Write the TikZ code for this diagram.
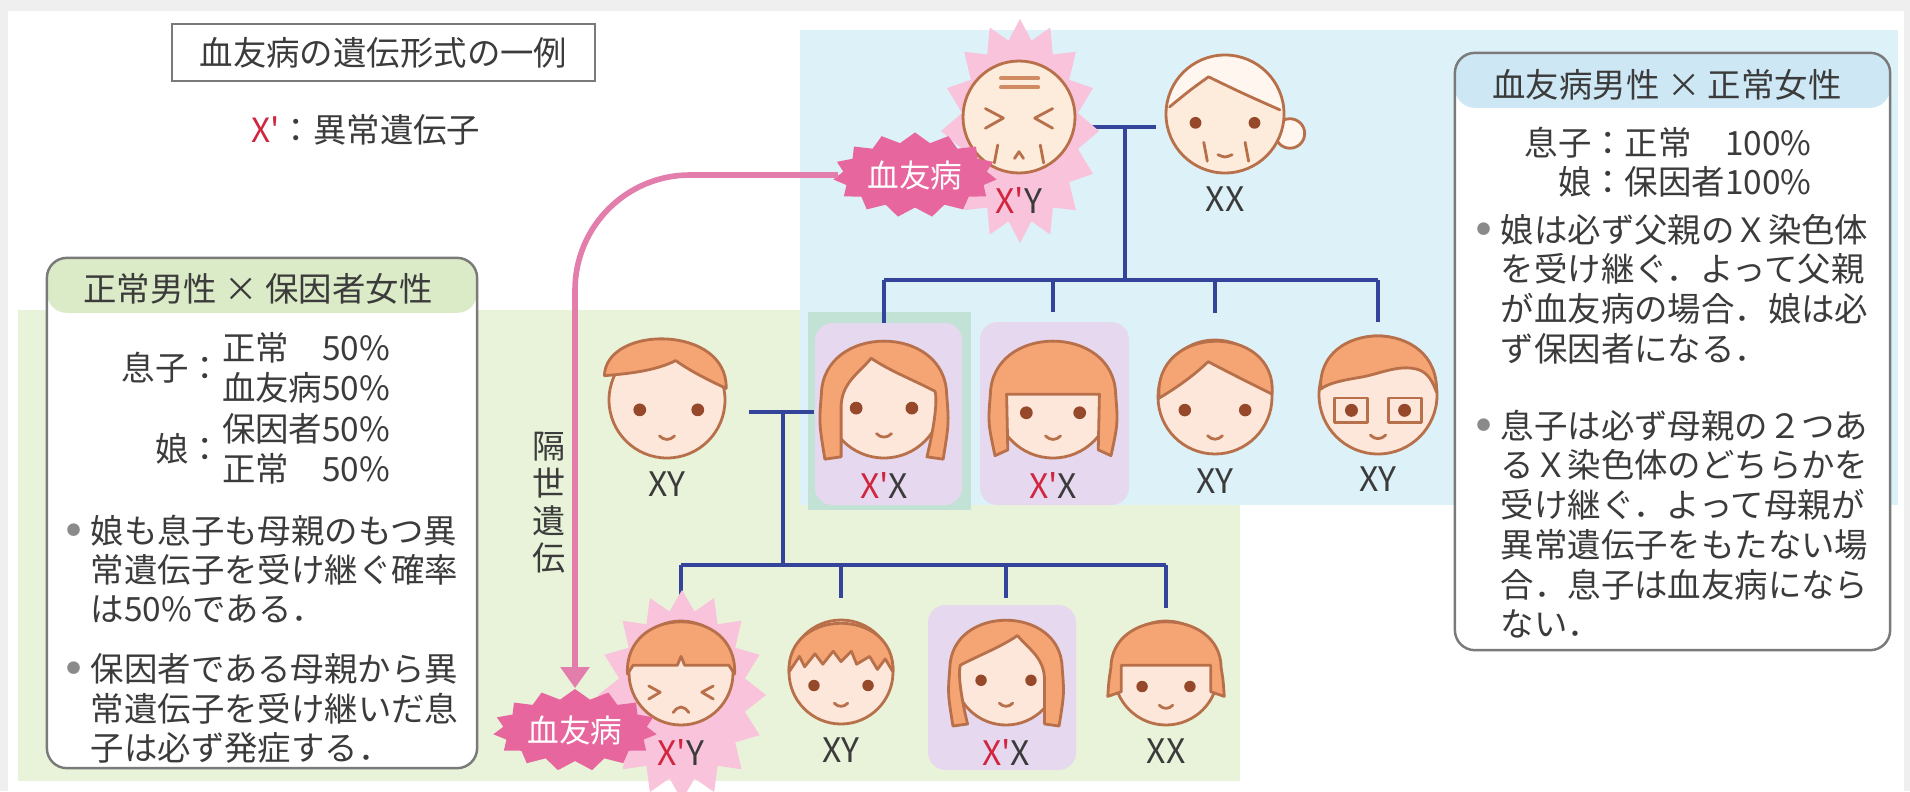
\documentclass[tikz,border=0pt]{standalone}
\usepackage{fontspec}
\newfontfamily\jpfont{Noto Sans CJK JP}
\usetikzlibrary{positioning,arrows.meta,shapes.symbols}

\definecolor{ink}{HTML}{3B3B3B}
\definecolor{xred}{HTML}{D0263F}
\definecolor{skin}{HTML}{FDE7DA}
\definecolor{oldskin}{HTML}{FDEBDB}
\definecolor{faceline}{HTML}{B8704A}
\definecolor{hairorange}{HTML}{F5A474}
\definecolor{whitehair}{HTML}{FFF7EF}
\definecolor{eyebrown}{HTML}{96492A}
\definecolor{kinblue}{HTML}{34449A}
\definecolor{bluebg}{HTML}{DDF1F8}
\definecolor{greenbg}{HTML}{E9F3D9}
\definecolor{tealbox}{HTML}{C3E2D6}
\definecolor{lilac}{HTML}{E5D8EF}
\definecolor{burstpink}{HTML}{F9C3DB}
\definecolor{tagpink}{HTML}{E8669E}
\definecolor{arrowpink}{HTML}{E37DAB}
\definecolor{greenhead}{HTML}{DCEBC7}
\definecolor{bluehead}{HTML}{CDE8F4}
\definecolor{boxgray}{HTML}{7A7A7A}
\definecolor{dotgray}{HTML}{8A8A8A}
\definecolor{pagegray}{HTML}{EFEFEF}

% genotype with the faulty X in red
\newcommand\Xp{\textcolor{xred}{X'}}
\newcommand\dotitem{\raisebox{2.2pt}{\textcolor{dotgray}{\fontsize{4pt}{4pt}\selectfont ●}}}
% small smiling mouth at height #1
\newcommand\smileat[1]{\draw[feat] (-0.13,#1) .. controls (-0.05,#1+0.08) and (0.05,#1+0.08) .. (0.13,#1);}

% faces, drawn in units of the head radius (y points down)
\tikzset{
  skinface/.style={fill=skin, draw=faceline, line width=0.8pt},
  hair/.style={fill=hairorange, draw=faceline, line width=0.8pt, line join=round},
  feat/.style={draw=faceline, line width=0.8pt, line cap=round, line join=round},
  eye/.style={fill=eyebrown},
  grandpa/.pic={
    \filldraw[skinface, fill=oldskin] (0,0) circle (1);
    \draw[feat, draw=hairorange!85!black, line width=1.2pt]
      (-0.32,-0.69) -- (0.34,-0.69) (-0.32,-0.53) -- (0.34,-0.53);
    \draw[feat] (-0.6,-0.15) -- (-0.28,0.02) -- (-0.6,0.2)
                (0.6,-0.15) -- (0.28,0.02) -- (0.6,0.2);
    \draw[feat] (-0.38,0.5) -- (-0.44,0.82) (0.38,0.5) -- (0.44,0.82);
    \draw[feat] (-0.08,0.74) -- (0,0.62) -- (0.08,0.74);
  },
  granny/.pic={
    \filldraw[hair, fill=whitehair] (1.1,0.33) circle (0.25);
    \fill[oldskin] (0,0) circle (1);
    \begin{scope}
      \clip (0,0) circle (1);
      \fill[whitehair] (-1.2,-0.1) -- (-0.94,-0.12) .. controls (-0.6,-0.4) .. (-0.28,-0.63)
        .. controls (0.3,-0.35) .. (0.93,-0.07) -- (1.2,-0.07) -- (1.2,-1.2) -- (-1.2,-1.2) -- cycle;
    \end{scope}
    \draw[feat] (0,0) circle (1);
    \draw[feat] (-0.94,-0.12) .. controls (-0.6,-0.4) .. (-0.28,-0.63) .. controls (0.3,-0.35) .. (0.93,-0.07);
    \fill[eye] (-0.5,0.15) circle (0.1) (0.5,0.15) circle (0.1);
    \draw[feat] (-0.36,0.48) -- (-0.3,0.8) (0.34,0.48) -- (0.4,0.8);
    \draw[feat] (-0.12,0.69) .. controls (0,0.74) .. (0.12,0.69);
  },
  sideboy/.pic={
    \filldraw[skinface] (0,0) circle (1);
    \filldraw[hair] (-1.08,-0.42) .. controls (-1.05,-1.3) and (1.05,-1.3) .. (1.02,-0.2)
      .. controls (0.7,-0.35) and (0.4,-0.5) .. (0.15,-0.68)
      .. controls (-0.2,-0.5) and (-0.7,-0.45) .. cycle;
    \fill[eye] (-0.47,0.17) circle (0.11) (0.53,0.17) circle (0.11);
    \smileat{0.62}
  },
  longgirl/.pic={
    \filldraw[skinface] (0,0) circle (1);
    \filldraw[hair] (-0.74,0.98) -- (-1.02,1.02) .. controls (-1.12,0.4) .. (-1.08,-0.1)
      .. controls (-1.05,-1.32) and (1.05,-1.32) .. (1.08,-0.1) .. controls (1.12,0.4) .. (1.02,1.02)
      -- (0.74,0.98) .. controls (0.88,0.4) and (0.92,0.0) .. (0.88,-0.15)
      .. controls (0.5,-0.35) and (0.1,-0.5) .. (-0.22,-0.72)
      .. controls (-0.45,-0.45) and (-0.72,-0.3) .. (-0.74,0.1) -- cycle;
    \fill[eye] (-0.48,0.14) circle (0.11) (0.48,0.14) circle (0.11);
    \smileat{0.58}
  },
  bobgirl/.pic={
    \filldraw[skinface] (0,0) circle (1);
    \filldraw[hair] (-1.0,0.96) .. controls (-1.12,0.4) .. (-1.08,-0.1)
      .. controls (-1.05,-1.32) and (1.05,-1.32) .. (1.08,-0.1) .. controls (1.12,0.4) .. (1.0,0.96)
      -- (0.78,0.86) -- (0.8,-0.1) -- (-0.8,-0.1) -- (-0.78,0.86) -- cycle;
    \fill[eye] (-0.46,0.22) circle (0.11) (0.46,0.22) circle (0.11);
    \smileat{0.62}
  },
  shortbob/.pic={
    \filldraw[skinface] (0,0) circle (1);
    \filldraw[hair] (-1.12,0.45) .. controls (-1.1,0.15) .. (-1.06,-0.1)
      .. controls (-1.05,-1.28) and (1.05,-1.28) .. (1.06,-0.1) .. controls (1.1,0.15) .. (1.12,0.45)
      -- (0.86,0.36) -- (0.86,-0.15) -- (-0.86,-0.15) -- (-0.86,0.36) -- cycle;
    \fill[eye] (-0.46,0.26) circle (0.11) (0.46,0.26) circle (0.11);
    \smileat{0.62}
  },
  partboy/.pic={
    \filldraw[skinface] (0,0) circle (1);
    \filldraw[hair] (-0.98,0.02) .. controls (-1.1,-1.3) and (1.1,-1.3) .. (1.0,-0.05)
      .. controls (0.6,-0.25) and (0.2,-0.45) .. (-0.12,-0.62)
      .. controls (-0.4,-0.35) and (-0.7,-0.15) .. cycle;
    \fill[eye] (-0.53,0.23) circle (0.11) (0.53,0.23) circle (0.11);
    \smileat{0.68}
  },
  glassboy/.pic={
    \filldraw[skinface] (0,0) circle (1);
    \filldraw[hair] (-0.97,-0.1) .. controls (-1.05,-1.3) and (1.05,-1.32) .. (0.99,-0.05)
      .. controls (0.9,-0.3) and (0.8,-0.42) .. (0.6,-0.45)
      .. controls (0.3,-0.5) and (0,-0.35) .. (-0.3,-0.3)
      .. controls (-0.6,-0.25) and (-0.85,-0.2) .. cycle;
    \draw[feat] (-0.74,0.05) rectangle (-0.18,0.47) (0.18,0.05) rectangle (0.74,0.47);
    \fill[eye] (-0.45,0.26) circle (0.11) (0.45,0.26) circle (0.11);
    \smileat{0.68}
  },
  bowlboy/.pic={
    \filldraw[skinface] (0,0) circle (1);
    \filldraw[hair] (-1.03,0.02) .. controls (-1.1,-1.32) and (1.1,-1.32) .. (1.03,0.02)
      -- (0.92,-0.15) -- (0.07,-0.15) -- (0,-0.32) -- (-0.07,-0.15) -- (-0.92,-0.15) -- cycle;
    \draw[feat] (-0.62,0.25) -- (-0.4,0.37) -- (-0.62,0.5) (0.62,0.25) -- (0.4,0.37) -- (0.62,0.5);
    \draw[feat] (-0.15,0.76) .. controls (-0.05,0.62) and (0.05,0.62) .. (0.15,0.76);
  },
  spikyboy/.pic={
    \filldraw[skinface] (0,0) circle (1);
    \filldraw[hair] (-1.0,0.0) .. controls (-1.05,-1.25) and (1.05,-1.25) .. (1.0,0.0)
      -- (0.85,-0.25) -- (0.7,-0.05) -- (0.55,-0.3) -- (0.3,-0.15) -- (0.2,-0.4) -- (0.0,-0.2)
      -- (-0.15,-0.4) -- (-0.35,-0.15) -- (-0.5,-0.35) -- (-0.7,-0.1) -- (-0.8,-0.3) -- cycle;
    \fill[eye] (-0.52,0.26) circle (0.11) (0.52,0.26) circle (0.11);
    \smileat{0.6}
  },
}

\begin{document}
\begin{tikzpicture}[x=0.01cm, y=-0.01cm,
    kin/.style={draw=kinblue, line width=1.3pt},
    head/.style={circle, inner sep=0pt},
    geno/.style={font=\jpfont\fontsize{9.6pt}{10pt}\selectfont, text=ink, inner sep=0pt},
    txt/.style={font=\jpfont\fontsize{9.5pt}{11.1pt}\selectfont, text=ink, inner sep=0pt},
    burst/.style={shape=starburst, fill=burstpink, starburst points=16,
      starburst point height=0.2cm, random starburst=0, inner sep=0pt},
    tag/.style={shape=starburst, fill=tagpink, text=white, starburst points=15,
      starburst point height=0.1cm, random starburst=0, inner sep=1pt,
      font=\jpfont\fontsize{9pt}{9pt}\selectfont},
    infobox/.style={rectangle, rounded corners=0.2cm, draw=boxgray, line width=0.7pt,
      fill=white, inner sep=0pt},
    heredity/.style={draw=arrowpink, line width=1.6pt, rounded corners=1.15cm,
      -{Triangle[width=8pt,length=6pt]}}]
  \useasboundingbox (0,0) rectangle (1910,791);

  % page and the two family areas
  \fill[pagegray] (0,0) rectangle (1910,791);
  \fill[white] (8,11) rectangle (1904,791);
  \fill[greenbg] (18,310) rectangle (1240,781);
  \fill[bluebg] (800,30) rectangle (1898,505);
  \fill[tealbox] (808,312) rectangle (971,510);
  \fill[lilac, rounded corners=5pt] (815,323) rectangle (962,505);
  \fill[lilac, rounded corners=5pt] (980,322) rectangle (1129,505);
  \fill[lilac, rounded corners=5pt] (928,605) rectangle (1076,770);

  % title and key
  \node[txt, draw=boxgray, line width=0.6pt, minimum width=4.23cm, minimum height=0.57cm]
    (title) at (383.5,52.5) {血友病の遺伝形式の一例};
  \node[txt] (legend) at (366,130) {\Xp：異常遺伝子};

  % heads
  \node[head, minimum size=1.12cm] (g1) at (1019,117) {};
  \node[head, minimum size=1.18cm] (g2) at (1225,114) {};
  \node[head, minimum size=1.16cm] (p0) at (667,400) {};
  \node[head, minimum size=1.16cm] (c1) at (884,400) {};
  \node[head, minimum size=1.16cm] (c2) at (1053,400) {};
  \node[head, minimum size=1.16cm] (c3) at (1215,397) {};
  \node[head, minimum size=1.16cm] (c4) at (1378,395) {};
  \node[head, minimum size=1.04cm] (d1) at (681,673) {};
  \node[head, minimum size=1.04cm] (d2) at (841,672) {};
  \node[head, minimum size=1.04cm] (d3) at (1006,673) {};
  \node[head, minimum size=1.04cm] (d4) at (1166,673) {};

  % pedigree lines
  \coordinate (m1) at (1125,127);
  \coordinate (s1) at (1125,280);
  \draw[kin] ([shift={(14,10)}]g1.east) -- ([shift={(-9,13)}]g2.west);
  \draw[kin] (m1) -- (s1);
  \draw[kin] (c1.north |- s1) -- (c4.north |- s1);
  \foreach \c/\d in {c1/43,c2/32,c3/33,c4/42}
    \draw[kin] (\c.north |- s1) -- ++(0,\d);

  \coordinate (m2) at (783,412);
  \coordinate (s2) at (783,565);
  \draw[kin] ([shift={(23,12)}]p0.east) -- ([shift={(-11,12)}]c1.west);
  \draw[kin] (m2) -- (s2);
  \draw[kin] (d1.north |- s2) -- (d4.north |- s2);
  \foreach \c/\d in {d1/42,d2/33,d3/33,d4/43}
    \draw[kin] (\c.north |- s2) -- ++(0,\d);

  % affected males
  \node[burst, minimum width=1.58cm, minimum height=2.24cm] (b1) at (1020,131) {};
  \node[burst, minimum width=1.68cm, minimum height=2.1cm] (b2) at (682,695) {};

  \pic[scale=56] at (g1) {grandpa};
  \pic[scale=59] at (g2) {granny};
  \pic[scale=58] at (p0) {sideboy};
  \pic[scale=58] at (c1) {longgirl};
  \pic[scale=58] at (c2) {bobgirl};
  \pic[scale=57] at (c3) {partboy};
  \pic[scale=59] at (c4) {glassboy};
  \pic[scale=52] at (d1) {bowlboy};
  \pic[scale=52] at (d2) {spikyboy};
  \pic[scale=52, xscale=-1] at (d3) {longgirl};
  \pic[scale=52] at (d4) {shortbob};

  \node[geno, below=3.6pt of g1] (g1x) {\Xp Y};
  \node[geno, below=3.6pt of g2] (g2x) {XX};
  \node[geno, below=3.6pt of p0] (p0x) {XY};
  \node[geno, below=3.6pt of c1] (c1x) {\Xp X};
  \node[geno, below=3.6pt of c2] (c2x) {\Xp X};
  \node[geno, below=3.6pt of c3] (c3x) {XY};
  \node[geno, below=3.6pt of c4] (c4x) {XY};
  \node[geno, below=3.6pt of d1] (d1x) {\Xp Y};
  \node[geno, below=3.6pt of d2] (d2x) {XY};
  \node[geno, below=3.6pt of d3] (d3x) {\Xp X};
  \node[geno, below=3.6pt of d4] (d4x) {XX};

  % skipped generation
  \node[tag, minimum width=1.2cm, minimum height=0.85cm] (hemo1) at (915,175) {血友病};
  \node[tag, minimum width=1.3cm, minimum height=0.82cm] (hemo2) at (575,730) {血友病};
  \draw[heredity] (hemo1.west) -| (hemo2.north);
  \node[txt, font=\jpfont\fontsize{9.4pt}{9.3pt}\selectfont] (skip) at (549,506)
    {\begin{tabular}{@{}c@{}}隔\\世\\遺\\伝\end{tabular}};

  % normal male x carrier female
  \node[infobox, minimum width=4.3cm, minimum height=5.1cm,
    path picture={\fill[greenhead] (path picture bounding box.north west)
      rectangle ([yshift=-0.55cm]path picture bounding box.north east);}]
    (lbox) at (262,513) {};
  \node[txt] (lhead) at (258,289) {正常男性 × 保因者女性};
  \node[txt, font=\jpfont\fontsize{9.5pt}{11.4pt}\selectfont] (lstat) at (256,413)
    {\begin{tabular}{@{}r@{}l@{}}
      息子： & \begin{tabular}{@{}l@{}}正常　50\%\\血友病50\%\end{tabular}\\
      娘： & \begin{tabular}{@{}l@{}}保因者50\%\\正常　50\%\end{tabular}
    \end{tabular}};
  \node[txt, anchor=base west] (lnote1) at (66,543)
    {\begin{tabular}[t]{@{}l@{\hspace{0.1cm}}l@{}}
      \dotitem & 娘も息子も母親のもつ異\\
               & 常遺伝子を受け継ぐ確率\\
               & は50\%である．
    \end{tabular}};
  \node[txt, anchor=base west] (lnote2) at (66,681)
    {\begin{tabular}[t]{@{}l@{\hspace{0.1cm}}l@{}}
      \dotitem & 保因者である母親から異\\
               & 常遺伝子を受け継いだ息\\
               & 子は必ず発症する．
    \end{tabular}};

  % hemophilic male x normal female
  \node[infobox, minimum width=4.35cm, minimum height=5.97cm,
    path picture={\fill[bluehead] (path picture bounding box.north west)
      rectangle ([yshift=-0.55cm]path picture bounding box.north east);}]
    (rbox) at (1672.5,351.5) {};
  \node[txt] (rhead) at (1667,85) {血友病男性 × 正常女性};
  \node[txt, font=\jpfont\fontsize{9.5pt}{10.5pt}\selectfont] (rstat) at (1668,166)
    {\begin{tabular}{@{}r@{}l@{}}
      息子：& 正常　100\%\\
      娘：& 保因者100\%
    \end{tabular}};
  \node[txt, anchor=base west] (rnote1) at (1476,242)
    {\begin{tabular}[t]{@{}l@{\hspace{0.1cm}}l@{}}
      \dotitem & 娘は必ず父親のＸ染色体\\
               & を受け継ぐ．よって父親\\
               & が血友病の場合．娘は必\\
               & ず保因者になる．
    \end{tabular}};
  \node[txt, anchor=base west] (rnote2) at (1476,438)
    {\begin{tabular}[t]{@{}l@{\hspace{0.1cm}}l@{}}
      \dotitem & 息子は必ず母親の２つあ\\
               & るＸ染色体のどちらかを\\
               & 受け継ぐ．よって母親が\\
               & 異常遺伝子をもたない場\\
               & 合．息子は血友病になら\\
               & ない．
    \end{tabular}};
\end{tikzpicture}
\end{document}
